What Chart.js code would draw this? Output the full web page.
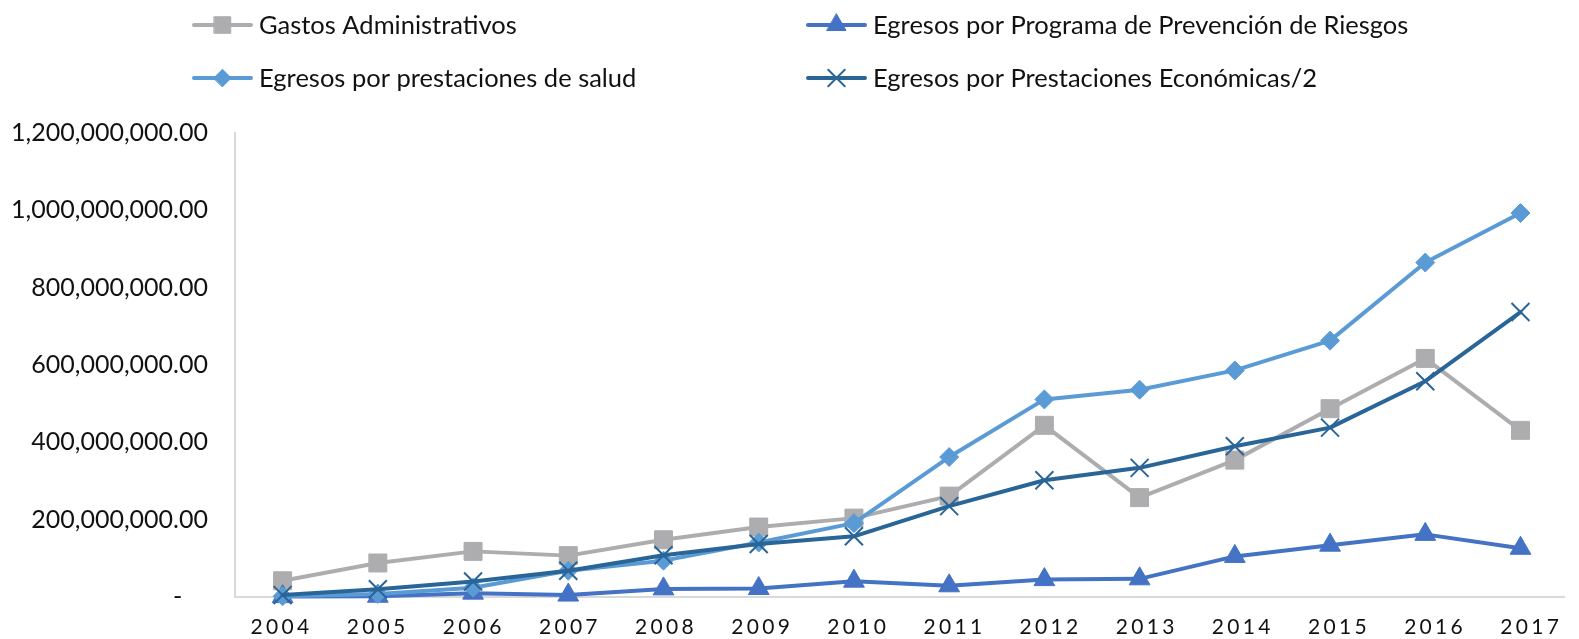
<!DOCTYPE html>
<html>
<head>
<meta charset="utf-8">
<script src="https://cdn.jsdelivr.net/npm/chart.js@4.4.1/dist/chart.umd.min.js"></script>
<style>
	html, body { margin: 0; padding: 0; background: #fff; }
	#chart { display: block; }
</style>
</head>
<body>
<canvas id="chart" width="1579" height="639"></canvas>
<script>
	// years on the x axis
	var years = [2004, 2005, 2006, 2007, 2008, 2009, 2010, 2011, 2012, 2013, 2014, 2015, 2016, 2017];

	// series values
	var gastosAdministrativos = [42e6, 88e6, 118e6, 107e6, 148e6, 181e6, 204e6, 261e6, 444e6, 257e6, 354e6, 487e6, 617e6, 431e6];
	var prevencionRiesgos = [1e6, 2e6, 10e6, 5e6, 21e6, 22e6, 41e6, 29e6, 45e6, 47e6, 105e6, 134e6, 162e6, 126e6];
	var prestacionesSalud = [2e6, 8e6, 24e6, 68e6, 94e6, 141e6, 191e6, 362e6, 511e6, 536e6, 586e6, 663e6, 865e6, 993e6];
	var prestacionesEconomicas = [5e6, 20e6, 40e6, 68e6, 108e6, 137e6, 157e6, 235e6, 302e6, 334e6, 390e6, 438e6, 558e6, 737e6];

	var seriesNames = [
		"Gastos Administrativos",
		"Egresos por Programa de Prevención de Riesgos",
		"Egresos por prestaciones de salud",
		"Egresos por Prestaciones Económicas/2"
	];

	// y axis tick values
	var yTicks = [0, 200e6, 400e6, 600e6, 800e6, 1000e6, 1200e6];

	var toPoints = function(values) {
		return years.map(function(year, i) {
			return { x: year, y: values[i] };
		});
	};

	var makeSeries = function(label, values, color, style, radius, order, markerLine) {
		return {
			label: label,
			data: toPoints(values),
			borderColor: color,
			backgroundColor: color,
			borderWidth: 4,
			borderJoinStyle: 'round',
			borderCapStyle: 'round',
			tension: 0,
			pointStyle: style,
			pointRadius: radius,
			pointHoverRadius: radius,
			pointBackgroundColor: color,
			pointBorderColor: color,
			pointBorderWidth: markerLine,
			clip: false,
			order: order
		};
	};

	/**
	 * Legend drawn like the spreadsheet one: two columns, line + marker
	 */
	var legendSpots = [[192, 25], [806, 25], [192, 78], [806, 78]];
	var excelLegend = {
		id: 'excelLegend',
		afterDraw: function(chart) {
			var ctx = chart.ctx;
			chart.data.datasets.forEach(function(ds, i) {
				var x = legendSpots[i][0];
				var y = legendSpots[i][1];
				var len = 61;
				ctx.save();
				ctx.strokeStyle = ds.borderColor;
				ctx.lineWidth = 4;
				ctx.lineCap = 'round';
				ctx.beginPath();
				ctx.moveTo(x + 2, y);
				ctx.lineTo(x + len - 2, y);
				ctx.stroke();
				ctx.fillStyle = ds.pointBackgroundColor;
				ctx.strokeStyle = ds.pointBorderColor;
				ctx.lineWidth = ds.pointBorderWidth;
				Chart.helpers.drawPoint(ctx, {
					pointStyle: ds.pointStyle,
					radius: ds.pointRadius * 0.92,
					rotation: 0,
					borderWidth: ds.pointBorderWidth
				}, x + len / 2, y);
				ctx.fillStyle = '#111';
				ctx.font = '25.5px Lato';
				ctx.textBaseline = 'middle';
				ctx.textAlign = 'left';
				ctx.fillText(ds.label, x + len + 6, y + 1);
				ctx.restore();
			});
		}
	};

	// the year labels are letter-spaced in the original
	var spacedYears = {
		id: 'spacedYears',
		beforeDraw: function(chart) {
			var sx = chart.scales.yearLabels;
			if (sx._spaced) {
				return;
			}
			var orig = sx.drawLabels;
			sx.drawLabels = function(area) {
				this.ctx.save();
				this.ctx.letterSpacing = '3.3px';
				orig.call(this, area);
				this.ctx.restore();
			};
			sx._spaced = true;
		}
	};

	var ctx = document.getElementById('chart');
	var myLineChart = new Chart(ctx, {
		type: 'line',
		data: {
			datasets: [
				makeSeries(seriesNames[0], gastosAdministrativos, '#ADADB0', 'rect', 12.7, 4, 1),
				makeSeries(seriesNames[1], prevencionRiesgos, '#4472C4', 'triangle', 12, 3, 1),
				makeSeries(seriesNames[2], prestacionesSalud, '#5B9BD5', 'rectRot', 9.5, 2, 1),
				makeSeries(seriesNames[3], prestacionesEconomicas, '#2A6598', 'crossRot', 12.7, 1, 2)
			]
		},
		options: {
			responsive: false,
			animation: false,
			devicePixelRatio: 1,
			layout: { padding: { top: 133, left: 0, right: 0, bottom: 0 } },
			plugins: {
				legend: { display: false },
				tooltip: { enabled: false }
			},
			scales: {
				// data axis (points), kept hidden
				x: {
					type: 'linear',
					display: false,
					min: 2003.5,
					max: 2017.46
				},
				// year labels sit on a slightly wider grid than the points
				yearLabels: {
					type: 'linear',
					axis: 'x',
					position: 'bottom',
					min: 2003.5165,
					max: 2017.344,
					grid: { display: false, drawTicks: false },
					border: { display: true, color: '#D9D9D9', width: 2 },
					afterFit: function(scale) { scale.height = 41; },
					afterBuildTicks: function(scale) {
						scale.ticks = years.map(function(v) { return { value: v }; });
					},
					ticks: {
						autoSkip: false,
						maxRotation: 0,
						padding: 18,
						color: '#111',
						font: { family: 'Lato', size: 21 },
						callback: function(value) { return String(value); }
					}
				},
				y: {
					min: yTicks[0],
					max: yTicks[yTicks.length - 1],
					grid: { display: false, drawTicks: false },
					border: { display: true, color: '#D9D9D9', width: 2 },
					afterFit: function(scale) { scale.width = 235; },
					afterBuildTicks: function(scale) {
						scale.ticks = yTicks.map(function(v) { return { value: v }; });
					},
					ticks: {
						padding: 27,
						color: '#111',
						font: { family: 'Lato', size: 25 },
						callback: function(value) {
							if (value === 0) {
								return '-    ';
							}
							return value.toLocaleString('en-US', { minimumFractionDigits: 2, maximumFractionDigits: 2 });
						}
					}
				}
			}
		},
		plugins: [excelLegend, spacedYears]
	});
</script>
</body>
</html>
